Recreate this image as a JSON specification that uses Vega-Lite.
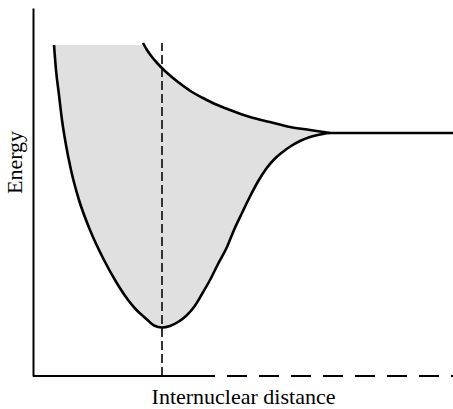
{
  "$schema": "https://vega.github.io/schema/vega-lite/v6.json",
  "width": 420,
  "height": 368,
  "autosize": "none",
  "padding": {"left": 33, "top": 8, "right": 0, "bottom": 33},
  "background": "white",
  "config": {"view": {"stroke": null}, "font": "Liberation Serif"},
  "datasets": {
    "band": [
      {"r": 21, "lo": 331, "hi": 331},
      {"r": 23, "lo": 306, "hi": 331},
      {"r": 26, "lo": 281, "hi": 331},
      {"r": 29, "lo": 256, "hi": 331},
      {"r": 33, "lo": 231, "hi": 331},
      {"r": 38, "lo": 206, "hi": 331},
      {"r": 46, "lo": 176, "hi": 331},
      {"r": 57, "lo": 146, "hi": 331},
      {"r": 71, "lo": 116, "hi": 331},
      {"r": 82, "lo": 96, "hi": 331},
      {"r": 91.5, "lo": 81, "hi": 331},
      {"r": 103.5, "lo": 66, "hi": 331},
      {"r": 110, "lo": 60, "hi": 331},
      {"r": 114.5, "lo": 56, "hi": 326},
      {"r": 121, "lo": 50.5, "hi": 317},
      {"r": 129, "lo": 48.5, "hi": 308},
      {"r": 137, "lo": 50, "hi": 301},
      {"r": 145, "lo": 54, "hi": 294},
      {"r": 153, "lo": 60, "hi": 288},
      {"r": 161, "lo": 69, "hi": 283},
      {"r": 169, "lo": 82, "hi": 278.5},
      {"r": 177, "lo": 96, "hi": 274},
      {"r": 185, "lo": 112, "hi": 270.5},
      {"r": 194, "lo": 129, "hi": 267},
      {"r": 201, "lo": 146, "hi": 265},
      {"r": 209, "lo": 163, "hi": 262},
      {"r": 217, "lo": 179.5, "hi": 259},
      {"r": 225, "lo": 194.5, "hi": 257},
      {"r": 233, "lo": 207, "hi": 255},
      {"r": 241, "lo": 216.5, "hi": 253},
      {"r": 249, "lo": 223.5, "hi": 251},
      {"r": 258, "lo": 230, "hi": 249},
      {"r": 267, "lo": 235, "hi": 247.5},
      {"r": 277, "lo": 239, "hi": 246},
      {"r": 287, "lo": 241.5, "hi": 244.5},
      {"r": 297, "lo": 243, "hi": 243}
    ],
    "curves": [
      {"curve": "bonding", "r": 21, "E": 331},
      {"curve": "bonding", "r": 23, "E": 306},
      {"curve": "bonding", "r": 26, "E": 281},
      {"curve": "bonding", "r": 29, "E": 256},
      {"curve": "bonding", "r": 33, "E": 231},
      {"curve": "bonding", "r": 38, "E": 206},
      {"curve": "bonding", "r": 46, "E": 176},
      {"curve": "bonding", "r": 57, "E": 146},
      {"curve": "bonding", "r": 71, "E": 116},
      {"curve": "bonding", "r": 82, "E": 96},
      {"curve": "bonding", "r": 91.5, "E": 81},
      {"curve": "bonding", "r": 103.5, "E": 66},
      {"curve": "bonding", "r": 110, "E": 60},
      {"curve": "bonding", "r": 114.5, "E": 56},
      {"curve": "bonding", "r": 121, "E": 50.5},
      {"curve": "bonding", "r": 129, "E": 48.5},
      {"curve": "bonding", "r": 137, "E": 50},
      {"curve": "bonding", "r": 145, "E": 54},
      {"curve": "bonding", "r": 153, "E": 60},
      {"curve": "bonding", "r": 161, "E": 69},
      {"curve": "bonding", "r": 169, "E": 82},
      {"curve": "bonding", "r": 177, "E": 96},
      {"curve": "bonding", "r": 185, "E": 112},
      {"curve": "bonding", "r": 194, "E": 129},
      {"curve": "bonding", "r": 201, "E": 146},
      {"curve": "bonding", "r": 209, "E": 163},
      {"curve": "bonding", "r": 217, "E": 179.5},
      {"curve": "bonding", "r": 225, "E": 194.5},
      {"curve": "bonding", "r": 233, "E": 207},
      {"curve": "bonding", "r": 241, "E": 216.5},
      {"curve": "bonding", "r": 249, "E": 223.5},
      {"curve": "bonding", "r": 258, "E": 230},
      {"curve": "bonding", "r": 267, "E": 235},
      {"curve": "bonding", "r": 277, "E": 239},
      {"curve": "bonding", "r": 287, "E": 241.5},
      {"curve": "bonding", "r": 297, "E": 243},
      {"curve": "bonding", "r": 420, "E": 243},
      {"curve": "antibonding", "r": 110, "E": 333},
      {"curve": "antibonding", "r": 114, "E": 326},
      {"curve": "antibonding", "r": 119, "E": 319},
      {"curve": "antibonding", "r": 125, "E": 312},
      {"curve": "antibonding", "r": 132, "E": 305},
      {"curve": "antibonding", "r": 140, "E": 298},
      {"curve": "antibonding", "r": 149, "E": 291},
      {"curve": "antibonding", "r": 159, "E": 284},
      {"curve": "antibonding", "r": 170, "E": 278},
      {"curve": "antibonding", "r": 182, "E": 272},
      {"curve": "antibonding", "r": 197, "E": 266},
      {"curve": "antibonding", "r": 217, "E": 259},
      {"curve": "antibonding", "r": 237, "E": 254},
      {"curve": "antibonding", "r": 257, "E": 249},
      {"curve": "antibonding", "r": 277, "E": 246},
      {"curve": "antibonding", "r": 297, "E": 243}
    ],
    "guides": [
      {"kind": "equilibrium", "r": 129, "r2": 129, "E": 0, "E2": 333},
      {"kind": "axis-solid", "r": 0, "r2": 162, "E": 0, "E2": 0},
      {"kind": "axis-dashed", "r": 162, "r2": 420, "E": 0, "E2": 0}
    ]
  },
  "encoding": {
    "x": {"field": "r", "type": "quantitative", "scale": {"domain": [0, 420], "nice": false, "zero": false},
      "axis": {"title": "Internuclear distance", "domain": false, "ticks": false, "labels": false, "grid": false,
        "titleFont": "Liberation Serif", "titleFontSize": 22, "titleFontWeight": "normal", "titleColor": "black", "titlePadding": 10}},
    "y": {"field": "E", "type": "quantitative", "scale": {"domain": [0, 368], "nice": false, "zero": false},
      "axis": {"title": "Energy", "domain": true, "domainColor": "black", "domainWidth": 2, "ticks": false, "labels": false, "grid": false,
        "titleFont": "Liberation Serif", "titleFontSize": 22, "titleFontWeight": "normal", "titleColor": "black", "titlePadding": 7, "titleY": 154}}
  },
  "layer": [
    {
      "data": {"name": "band"},
      "mark": {"type": "area", "color": "#e0e0e0", "interpolate": "monotone"},
      "encoding": {
        "y": {"field": "lo", "type": "quantitative"},
        "y2": {"field": "hi"}
      }
    },
    {
      "data": {"name": "guides"},
      "transform": [{"filter": "datum.kind === 'equilibrium'"}],
      "mark": {"type": "rule", "color": "#333", "strokeWidth": 2, "strokeDash": [9, 4]},
      "encoding": {"x2": {"field": "r2"}, "y2": {"field": "E2"}}
    },
    {
      "data": {"name": "guides"},
      "transform": [{"filter": "datum.kind === 'axis-solid'"}],
      "mark": {"type": "rule", "color": "black", "strokeWidth": 2},
      "encoding": {"x2": {"field": "r2"}, "y2": {"field": "E2"}}
    },
    {
      "data": {"name": "guides"},
      "transform": [{"filter": "datum.kind === 'axis-dashed'"}],
      "mark": {"type": "rule", "color": "black", "strokeWidth": 2, "strokeDash": [20, 12]},
      "encoding": {"x2": {"field": "r2"}, "y2": {"field": "E2"}}
    },
    {
      "data": {"name": "curves"},
      "mark": {"type": "line", "color": "black", "strokeWidth": 2.6, "interpolate": "monotone"},
      "encoding": {"detail": {"field": "curve"}}
    }
  ]
}
